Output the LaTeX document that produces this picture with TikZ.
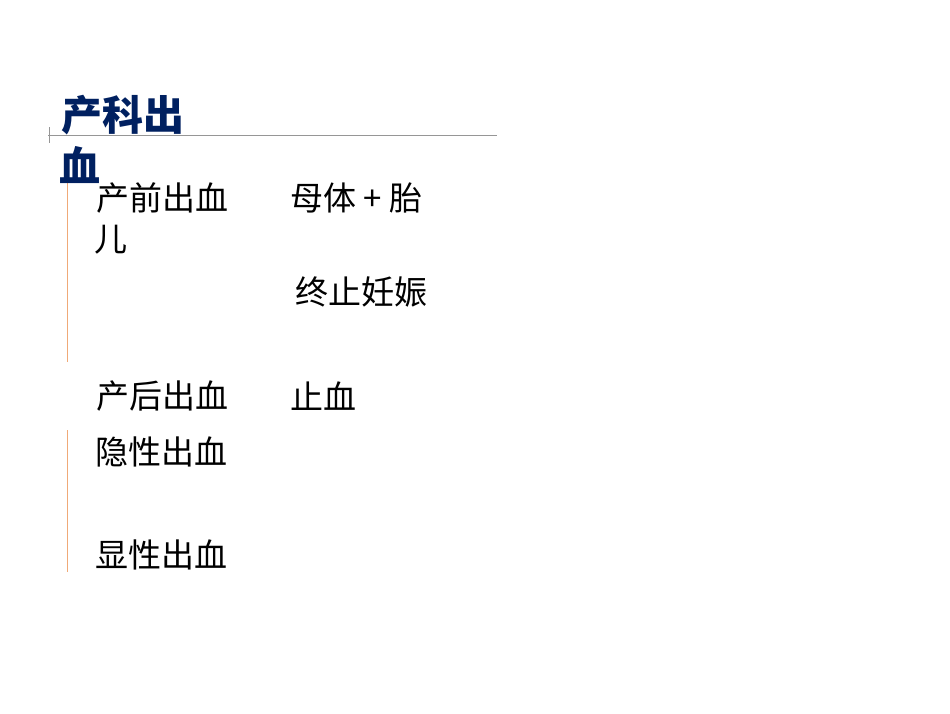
\documentclass[tikz,border=0pt]{standalone}
\usepackage{fontspec}
\newfontfamily\cjk{Noto Sans CJK SC}
\definecolor{navy}{RGB}{0,32,96}
\definecolor{rule}{RGB}{150,150,150}
\definecolor{org}{RGB}{240,170,120}
\begin{document}
\begin{tikzpicture}[x=1pt,y=-1pt,
  body/.style={anchor=west,inner sep=0pt,font=\cjk\fontsize{33}{36}\selectfont},
  ttl/.style={anchor=west,inner sep=0pt,text=navy,font=\cjk\bfseries\fontsize{41}{44}\selectfont}]
\useasboundingbox (0,0) rectangle (950,713);
\draw[rule,line width=1pt] (48,135) -- (497,135);
\draw[rule,line width=1pt] (49,127) -- (49,143);
\draw[org,line width=1pt] (67,182) -- (67,362);
\draw[org,line width=1pt] (67,430) -- (67,572);
\node[ttl] (t1) at (61,115) {产科出};
\node[ttl] (t2) at (59,165) {血};
\node[body] (a1) at (96,198) {产前出血};
\node[body] (a2) at (290,198) {母体 + 胎};
\node[body] (a3) at (94,240) {儿};
\node[body] (a4) at (295,292) {终止妊娠};
\node[body] (b1) at (96,396) {产后出血};
\node[body] (b2) at (290,396) {止血};
\node[body] (c1) at (95,452) {隐性出血};
\node[body] (c2) at (95,555) {显性出血};
\end{tikzpicture}
\end{document}
